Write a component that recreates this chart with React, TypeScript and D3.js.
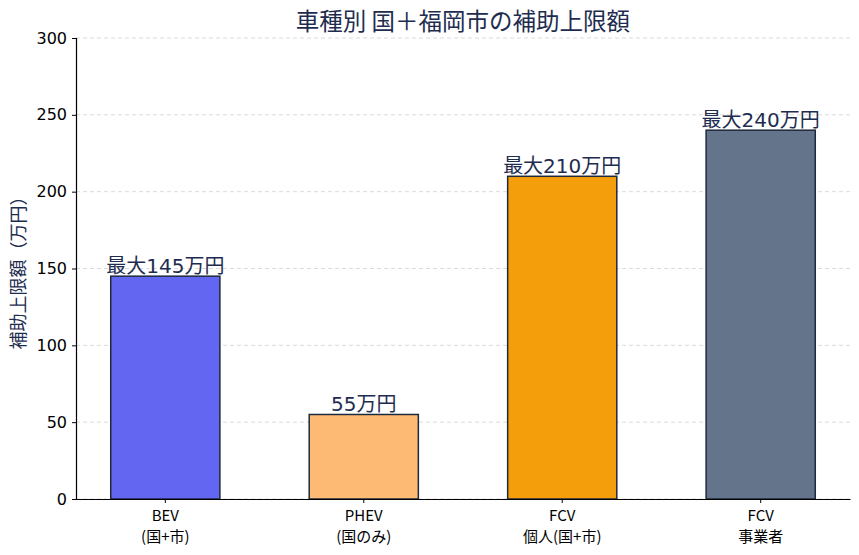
import { useEffect, useRef } from "react";
import * as d3 from "d3";

const categories = ["BEV\n(国+市)", "PHEV\n(国のみ)", "FCV\n個人(国+市)", "FCV\n事業者"];
const values = [145, 55, 210, 240];
const valueLabels = ["最大145万円", "55万円", "最大210万円", "最大240万円"];
const barColors = ["#6366f1", "#fdba74", "#f59e0b", "#64748b"];
const yTicks = [0, 50, 100, 150, 200, 250, 300];

const FONT = "'Noto Sans CJK JP', 'Noto Sans', sans-serif";
const WIDE = "'DejaVu Sans', 'Noto Sans CJK JP', sans-serif";
const NAVY = "#1e2d4f";

const App = () => {
  const ref = useRef<SVGSVGElement>(null);

  useEffect(() => {
    const svg = d3.select(ref.current);
    svg.selectAll("*").remove();

    const width = 859;
    const height = 555;
    const margin = { top: 38, right: 9, bottom: 56, left: 76 };
    const innerW = width - margin.left - margin.right;
    const innerH = height - margin.top - margin.bottom;

    const g = svg
      .append("g")
      .attr("transform", `translate(${margin.left},${margin.top})`);

    const x = d3
      .scaleBand()
      .domain(categories)
      .range([0, innerW])
      .paddingInner(0.45)
      .paddingOuter(0.175);

    const y = d3.scaleLinear().domain([0, 300]).range([innerH, 0]);

    // grid
    g.append("g")
      .selectAll("line")
      .data(yTicks)
      .enter()
      .append("line")
      .attr("x1", 0)
      .attr("x2", innerW)
      .attr("y1", (d) => y(d))
      .attr("y2", (d) => y(d))
      .attr("stroke", "#d0d0d0")
      .attr("stroke-width", 0.8)
      .attr("stroke-dasharray", "4,3");

    // bars
    g.selectAll("rect.bar")
      .data(values)
      .enter()
      .append("rect")
      .attr("class", "bar")
      .attr("x", (_, i) => x(categories[i])!)
      .attr("y", (d) => y(d))
      .attr("width", x.bandwidth())
      .attr("height", (d) => innerH - y(d))
      .attr("fill", (_, i) => barColors[i])
      .attr("stroke", "#1e293b")
      .attr("stroke-width", 1.5);

    // value labels
    g.selectAll("text.val")
      .data(values)
      .enter()
      .append("text")
      .attr("class", "val")
      .attr("x", (_, i) => x(categories[i])! + x.bandwidth() / 2)
      .attr("y", (d) => y(d) - 3)
      .attr("text-anchor", "middle")
      .attr("font-family", WIDE)
      .attr("font-size", 20)
      .attr("fill", NAVY)
      .text((_, i) => valueLabels[i]);

    // y axis
    const yAxis = g
      .append("g")
      .call(d3.axisLeft(y).tickValues(yTicks).tickSize(4).tickPadding(5));
    yAxis.select(".domain").attr("stroke", "#000").attr("stroke-width", 1.2);
    yAxis
      .selectAll("text")
      .attr("font-family", WIDE)
      .attr("font-size", 16)
      .attr("fill", "#000");

    // x axis
    const xAxis = g
      .append("g")
      .attr("transform", `translate(0,${innerH})`)
      .call(d3.axisBottom(x).tickSize(4).tickSizeOuter(0));
    xAxis.select(".domain").attr("stroke", "#000").attr("stroke-width", 1.2);
    xAxis.selectAll(".tick text").remove();
    xAxis.selectAll(".tick").each(function (d) {
      const tick = d3.select(this);
      String(d)
        .split("\n")
        .forEach((line, i) => {
          tick
            .append("text")
            .attr("x", 0)
            .attr("y", 22 + i * 21)
            .attr("text-anchor", "middle")
            .attr("font-family", FONT)
            .attr("font-size", 15)
            .attr("fill", "#000")
            .text(line);
        });
    });

    // title
    svg
      .append("text")
      .attr("x", margin.left + innerW / 2)
      .attr("y", 30)
      .attr("text-anchor", "middle")
      .attr("font-family", FONT)
      .attr("font-size", 23.5)
      .attr("fill", NAVY)
      .text("車種別 国＋福岡市の補助上限額");

    // y label
    svg
      .append("text")
      .attr("transform", `translate(25,${margin.top + innerH / 2}) rotate(-90)`)
      .attr("text-anchor", "middle")
      .attr("font-family", FONT)
      .attr("font-size", 18)
      .attr("fill", NAVY)
      .text("補助上限額（万円）");
  }, []);

  return (
    <svg
      ref={ref}
      width={859}
      height={555}
      style={{ position: "absolute", left: 0, top: 0, background: "#fff" }}
    ></svg>
  );
};

export default App;
